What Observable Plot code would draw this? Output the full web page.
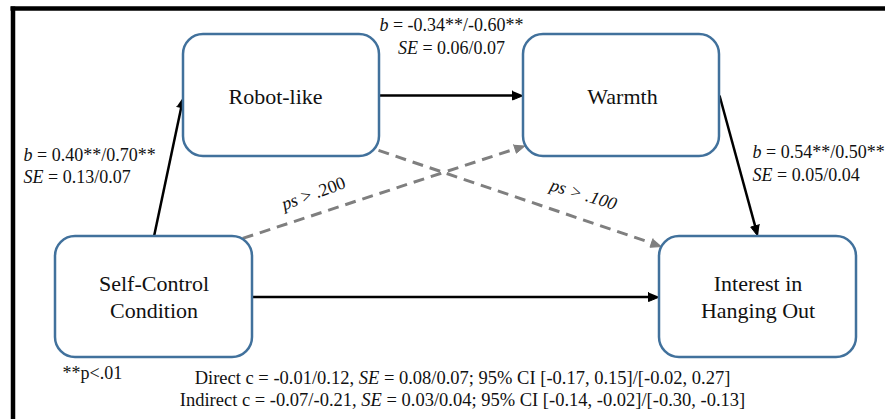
<!DOCTYPE html>
<html>
<head>
<meta charset="utf-8">
<script src="https://cdn.jsdelivr.net/npm/d3@7"></script>
<script src="https://cdn.jsdelivr.net/npm/@observablehq/plot@0.6"></script>
<style>
  html, body { margin: 0; padding: 0; background: #fff; overflow: hidden; }
  #chart svg { display: block; }
  #chart svg text { font-family: "Liberation Serif", "Times New Roman", serif; }
</style>
</head>
<body>
<div id="chart"></div>
<script>
// ---- Data ----
const nodeIds = ["RL", "W", "SC", "I"];
const nodeLabels = ["Robot-like", "Warmth", "Self-Control\nCondition", "Interest in\nHanging Out"];

// path coefficients (italic parts wrapped in _ _)
const pathA = ["_b_ = 0.40**/0.70**", "_SE_ = 0.13/0.07"];
const pathB = ["_b_ = -0.34**/-0.60**", "_SE_ = 0.06/0.07"];
const pathC = ["_b_ = 0.54**/0.50**", "_SE_ = 0.05/0.04"];
const nsLabels = ["_ps_ > .200", "_ps > .100_"];
const note = "**p<.01";
const effects = [
  "Direct c = -0.01/0.12, _SE_ = 0.08/0.07; 95% CI [-0.17, 0.15]/[-0.02, 0.27]",
  "Indirect c = -0.07/-0.21, _SE_ = 0.03/0.04; 95% CI [-0.14, -0.02]/[-0.30, -0.13]"
];

// edges: from node, to node, significant?
const edgeFrom = ["SC", "RL", "W", "SC", "SC", "RL"];
const edgeTo   = ["RL", "W", "I", "I", "W", "I"];
const edgeSig  = [true, true, true, true, false, false];

// ---- Layout (diagram units) ----
const nodeBox = {
  RL: [183, 379, 34, 156],
  W:  [523, 719, 34, 156],
  SC: [55, 252, 236, 357],
  I:  [659, 856, 236, 357]
};
const labelShift = {RL: [-6, 0], W: [1, 0], SC: [0, -1.5], I: [0, -1.5]};
// attachment points as fractions of the box [fx, fy]
const edgeAttach = [
  [[0.5, 0], [0, 0.51]],
  [[1, 0.5], [0, 0.5]],
  [[1, 0.5], [0.5, 0]],
  [[1, 0.5], [0, 0.5]],
  [[0.95, 0.016], [0.01, 0.91]],
  [[0.995, 0.95], [0.012, 0.083]]
];

const nodes = nodeIds.map((id, i) => {
  const [x1, x2, y1, y2] = nodeBox[id];
  const [dx, dy] = labelShift[id];
  return {id, label: nodeLabels[i], x1, x2, y1, y2, cx: (x1 + x2) / 2 + dx, cy: (y1 + y2) / 2 + dy};
});
const byId = Object.fromEntries(nodes.map(n => [n.id, n]));
const pt = (n, [fx, fy]) => [n.x1 + fx * (n.x2 - n.x1), n.y1 + fy * (n.y2 - n.y1)];

const headLen = 11, headHalf = 4.5;
const edges = edgeFrom.map((f, i) => {
  const [sx, sy] = pt(byId[f], edgeAttach[i][0]);
  const [tx, ty] = pt(byId[edgeTo[i]], edgeAttach[i][1]);
  const L = Math.hypot(tx - sx, ty - sy), ux = (tx - sx) / L, uy = (ty - sy) / L;
  return {i, sig: edgeSig[i], x1: sx, y1: sy, x2: tx - ux * headLen * 0.7, y2: ty - uy * headLen * 0.7, tx, ty, ux, uy};
});
const heads = edges.flatMap(e => {
  const bx = e.tx - e.ux * headLen, by = e.ty - e.uy * headLen;
  return [
    {i: e.i, sig: e.sig, x: e.tx, y: e.ty},
    {i: e.i, sig: e.sig, x: bx - e.uy * headHalf, y: by + e.ux * headHalf},
    {i: e.i, sig: e.sig, x: bx + e.uy * headHalf, y: by - e.ux * headHalf}
  ];
});

const frame = [
  {x1: 10, x2: 885, y1: 8, y2: 8},
  {x1: 12.5, x2: 12.5, y1: 6, y2: 419}
];

const startLabels = [
  {t: pathA[0], x: 23, y: 155},
  {t: pathA[1], x: 23, y: 177},
  {t: pathC[0], x: 752, y: 152},
  {t: pathC[1], x: 752, y: 175},
  {t: note, x: 62, y: 373}
];
const midLabels = [
  {t: pathB[0], x: 451, y: 25},
  {t: pathB[1], x: 451, y: 48}
];
const effectLabels = [
  {t: effects[0], x: 462, y: 378},
  {t: effects[1], x: 462, y: 400}
];
const nsPos = [
  {t: nsLabels[0], x: 313, y: 193, r: -20},
  {t: nsLabels[1], x: 583, y: 194, r: 17}
];

const ink = "#111";
const solid = "#000";
const dash = "#7f7f7f";
const boxBlue = "#41719c";
const serif = "Liberation Serif";

const chart = Plot.plot({
  width: 885,
  height: 419,
  margin: 0,
  x: {domain: [0, 885], range: [0, 885], axis: null},
  y: {domain: [0, 419], range: [0, 419], axis: null},
  marks: [
    Plot.link(frame, {x1: "x1", x2: "x2", y1: "y1", y2: "y2", stroke: "#000", strokeWidth: 4.5, strokeLinecap: "butt"}),
    Plot.link(edges.filter(e => e.sig), {x1: "x1", y1: "y1", x2: "x2", y2: "y2", stroke: solid, strokeWidth: 2.5}),
    Plot.link(edges.filter(e => !e.sig), {x1: "x1", y1: "y1", x2: "x2", y2: "y2", stroke: dash, strokeWidth: 3, strokeDasharray: "11,7"}),
    Plot.line(heads.filter(h => h.sig), {x: "x", y: "y", z: "i", fill: solid, stroke: solid, strokeWidth: 1}),
    Plot.line(heads.filter(h => !h.sig), {x: "x", y: "y", z: "i", fill: dash, stroke: dash, strokeWidth: 1}),
    Plot.rect(nodes, {x1: "x1", x2: "x2", y1: "y1", y2: "y2", rx: 20, fill: "#fff", stroke: boxBlue, strokeWidth: 2.5}),
    Plot.text(nodes, {x: "cx", y: "cy", text: "label", fontSize: 22, lineHeight: 1.23, fill: ink, fontFamily: serif}),
    Plot.text(startLabels, {x: "x", y: "y", text: "t", textAnchor: "start", fontSize: 18, fill: ink, fontFamily: serif}),
    Plot.text(midLabels, {x: "x", y: "y", text: "t", textAnchor: "middle", fontSize: 18, fill: ink, fontFamily: serif}),
    Plot.text(effectLabels, {x: "x", y: "y", text: "t", textAnchor: "middle", fontSize: 18.5, fill: ink, fontFamily: serif}),
    Plot.text(nsPos.slice(0, 1), {x: "x", y: "y", text: "t", rotate: nsPos[0].r, fontSize: 18, fill: ink, fontFamily: serif}),
    Plot.text(nsPos.slice(1), {x: "x", y: "y", text: "t", rotate: nsPos[1].r, fontSize: 18, fill: ink, fontFamily: serif})
  ]
});

// mixed italic: wrap _..._ parts in italic tspans
const svgns = "http://www.w3.org/2000/svg";
chart.querySelectorAll("text, tspan").forEach(el => {
  if (el.children.length || !el.textContent.includes("_")) return;
  const parts = el.textContent.split("_");
  el.textContent = "";
  parts.forEach((p, i) => {
    if (!p) return;
    if (i % 2) {
      const t = document.createElementNS(svgns, "tspan");
      t.setAttribute("font-style", "italic");
      t.textContent = p;
      el.appendChild(t);
    } else {
      el.appendChild(document.createTextNode(p));
    }
  });
});

document.getElementById("chart").appendChild(chart);
</script>
</body>
</html>
